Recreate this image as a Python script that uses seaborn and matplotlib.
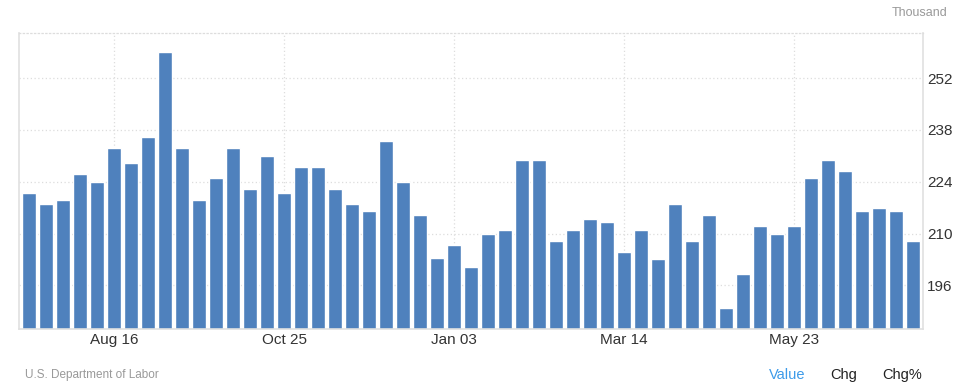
import matplotlib.pyplot as plt
import seaborn as sns
import pandas as pd
import numpy as np

sns.set_theme(style="white")
plt.rcParams['font.family'] = ['Liberation Sans', 'DejaVu Sans']

# weekly values (thousand), week ending Jul 12 2014 .. Jul 11 2015
weeks = pd.date_range('2014-07-12', periods=53, freq='7D').strftime('%b %d').tolist()
values = [221, 218, 219, 226, 224, 233, 229, 236, 259, 233,
          219, 225, 233, 222, 231, 221, 228, 228, 222, 218,
          216, 235, 224, 215, 203.5, 207, 201, 210, 211, 230,
          230, 208, 211, 214, 213, 205, 211, 203, 218, 208,
          215, 190, 199, 212, 210, 212, 225, 230, 227, 216,
          217, 216, 208]
tick_idx = [5, 15, 25, 35, 45]
tick_labels = ['Aug 16', 'Oct 25', 'Jan 03', 'Mar 14', 'May 23']
y_ticks = [196, 210, 224, 238, 252]

df = pd.DataFrame({'week': weeks, 'value': values})

fig = plt.figure(figsize=(9.57, 3.92), dpi=100)
ax = fig.add_axes([0.0202, 0.1607, 0.944, 0.7543])

sns.barplot(data=df, x='week', y='value', color='#4f81bd', saturation=1,
            width=0.82, ax=ax, zorder=2)

ax.set_xlim(-0.57, 52.57)
ax.set_ylim(184.2, 264.1)
ax.set_xticks(tick_idx)
ax.set_xticklabels(tick_labels)
ax.set_yticks(y_ticks)
ax.yaxis.tick_right()
ax.set_xlabel('')
ax.set_ylabel('')
ax.tick_params(axis='both', length=0, labelsize=11, colors='#333333')
ax.tick_params(axis='y', pad=3)
ax.tick_params(axis='x', pad=3)

ax.grid(True, axis='both', color='#dddddd', linestyle=(0, (1, 2)), linewidth=0.9, zorder=0)
ax.set_axisbelow(True)

for s in ['left', 'right', 'bottom']:
    ax.spines[s].set_color('#e0e0e0')
    ax.spines[s].set_linewidth(1.2)
ax.spines['top'].set_color('#dddddd')
ax.spines['top'].set_linestyle((0, (1, 2)))
ax.spines['top'].set_linewidth(0.9)

fig.text(0.99, 0.968, 'Thousand', ha='right', va='center', fontsize=9, color='#999999')
fig.text(0.026, 0.043, 'U.S. Department of Labor', ha='left', va='center', fontsize=8.5, color='#999999')
fig.text(0.803, 0.043, 'Value', ha='left', va='center', fontsize=10.5, color='#3d9be9')
fig.text(0.868, 0.043, 'Chg', ha='left', va='center', fontsize=10.5, color='#222222')
fig.text(0.922, 0.043, 'Chg%', ha='left', va='center', fontsize=10.5, color='#222222')

fig.savefig('out.png', dpi=100)
